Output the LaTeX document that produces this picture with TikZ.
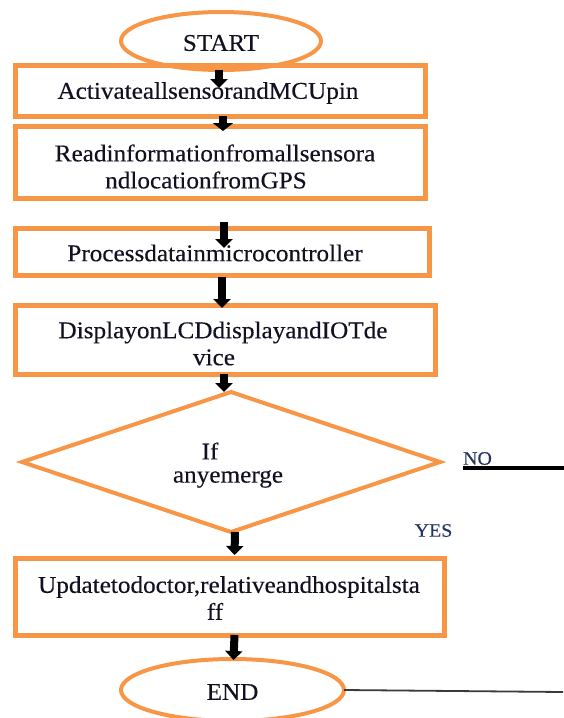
\documentclass[tikz,border=0pt]{standalone}
\usepackage{fontspec}
\setmainfont{Liberation Serif}[FakeStretch=1.05,FakeBold=0.3]
\usetikzlibrary{shapes.geometric,arrows.meta}
\definecolor{boxorange}{HTML}{F79646}
\definecolor{ink}{HTML}{111122}
\definecolor{labelblue}{HTML}{26355E}
\definecolor{rulegray}{HTML}{3A3A3A}
\tikzset{
  procbox/.style={draw=boxorange, line width=5pt, rectangle, outer sep=0pt,
    inner sep=0pt},
  terminal/.style={draw=boxorange, line width=4pt, ellipse, outer sep=0pt,
    inner sep=0pt},
  decision/.style={draw=boxorange, line width=4pt, diamond, outer sep=0pt,
    inner sep=0pt},
  bodytext/.style={text=ink, inner sep=0pt, align=center,
    font=\fontsize{24}{27}\selectfont},
  branchlabel/.style={text=labelblue, inner sep=0pt, font=\fontsize{19}{22}\selectfont},
  flow/.style={line width=8pt, -{Triangle[width=17pt,length=9pt]}},
  flowwide/.style={line width=8pt, -{Triangle[width=20pt,length=8pt]}},
}
\begin{document}
\begin{tikzpicture}[x=1pt, y=-1pt]
\useasboundingbox (0,0) rectangle (564,718);

% terminals
\node[terminal, minimum width=200pt, minimum height=58pt] (start) at (221,41) {};
\node[bodytext] (startt) at (221,43) {START};
\node[terminal, minimum width=223pt, minimum height=62pt] (finish) at (232.5,690) {};
\node[bodytext] (finisht) at (232.5,692) {END};

% process steps (wrapped lines sit slightly off-centre)
\node[procbox, minimum width=410pt, minimum height=51pt] (b1) at (220,90.5) {};
\node[bodytext] (b1t) at (208,93) {ActivateallsensorandMCUpin};
\node[procbox, minimum width=410pt, minimum height=72pt] (b2) at (220,162) {};
\node[bodytext] (b2t) at (211,166.5)
  {\hspace*{8pt}Readinformationfromallsensora\\ndlocationfromGPS\hspace*{10pt}};
\node[procbox, minimum width=414pt, minimum height=47pt] (b3) at (222,251.5) {};
\node[bodytext] (b3t) at (215,253) {Processdatainmicrocontroller};
\node[procbox, minimum width=420pt, minimum height=69pt] (b4) at (225,339.5) {};
\node[bodytext] (b4t) at (223,343.5) {DisplayonLCDdisplayandIOTde\\vice\hspace*{18pt}};

% decision
\node[decision, minimum width=418pt, minimum height=140pt] (dec) at (231,462) {};
\node[bodytext] (q1) at (210,451) {If};
\node[bodytext] (q2) at (228,479) {anyemerge};

\node[procbox, minimum width=429pt, minimum height=77pt] (b5) at (229.5,596.5) {};
\node[bodytext] (b5t) at (229,598) {Updatetodoctor,relativeandhospitalsta\\ff\hspace*{28pt}};

% branch labels
\node[branchlabel] (no) at (477.5,458.5) {NO};
\node[branchlabel] (yes) at (433.5,530.5) {YES};
\coordinate (nostart) at (463,468);
\coordinate (noend) at (564,468);
\draw[line width=3.5pt, black] (nostart) -- (noend);
\coordinate (endtail) at (563,692);
\draw[line width=1.8pt, rulegray] (finish.east) -- (endtail);

% flow arrows
\draw[flow] ([xshift=-2pt]start.south) -- ([xshift=-1pt,yshift=-23pt]b1.north);
\draw[flowwide] ([xshift=3pt]b1.south) -- ([xshift=3pt,yshift=-5pt]b2.north);
\draw[flow] ([xshift=4pt,yshift=-24pt]b2.south) -- ([xshift=2pt,yshift=-20pt]b3.north);
\draw[flow] ([yshift=-2pt]b3.south) -- ([xshift=-3pt,yshift=-3pt]b4.north);
\draw[flow] ([xshift=-1pt]b4.south) -- ([xshift=-7pt]dec.north);
\draw[flow] ([xshift=4pt]dec.south) -- ([xshift=5pt,yshift=3pt]b5.north);
\draw[flow] ([xshift=5pt]b5.south) -- ([xshift=1pt,yshift=-1pt]finish.north);
\end{tikzpicture}
\end{document}
